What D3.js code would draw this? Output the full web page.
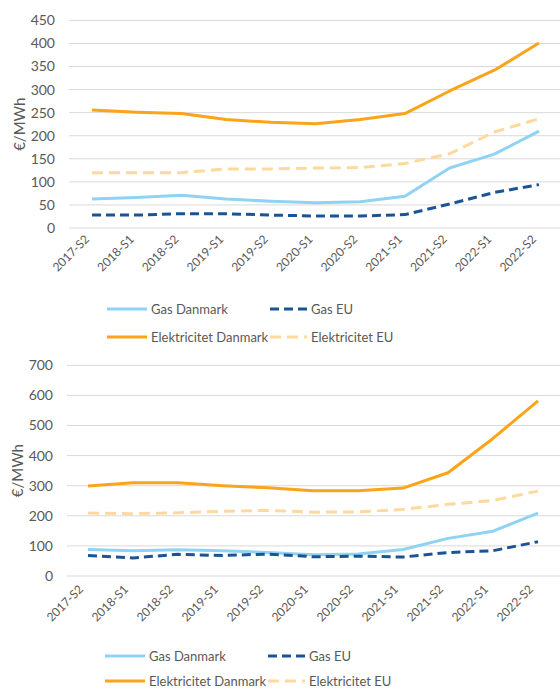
<!DOCTYPE html>
<html>
<head>
<meta charset="utf-8">
<script src="https://cdn.jsdelivr.net/npm/d3@7"></script>
<style>
  html, body { margin: 0; padding: 0; background: #fff; }
  svg { display: block; font-family: Lato, "Open Sans", sans-serif; }
</style>
</head>
<body>
<svg id="chart" width="560" height="690"></svg>
<script>
// Half-year periods
const periods = ["2017-S2","2018-S1","2018-S2","2019-S1","2019-S2","2020-S1","2020-S2","2021-S1","2021-S2","2022-S1","2022-S2"];

// Upper panel (€/MWh)
const upperTicks = [0,50,100,150,200,250,300,350,400,450];
const upperGasDK  = [63, 66, 71, 63, 58, 55, 57, 69, 130, 160, 210];
const upperGasEU  = [28, 28, 31, 31, 28, 26, 26, 29, 52, 77, 94];
const upperElDK   = [256, 251, 248, 235, 229, 226, 235, 248, 297, 342, 401];
const upperElEU   = [120, 120, 120, 128, 128, 130, 131, 140, 161, 208, 237];

// Lower panel (€/MWh)
const lowerTicks = [0,100,200,300,400,500,600,700];
const lowerGasDK  = [88, 84, 87, 84, 78, 71, 73, 88, 125, 149, 209];
const lowerGasEU  = [68, 60, 72, 68, 73, 64, 66, 63, 78, 84, 114];
const lowerElDK   = [299, 310, 310, 300, 293, 283, 283, 292, 343, 457, 582];
const lowerElEU   = [209, 207, 210, 215, 218, 212, 213, 221, 238, 251, 282];

const styles = {
  "Gas Danmark":          { color: "#8fd3f4", dash: null },
  "Gas EU":               { color: "#1b5495", dash: "9,5" },
  "Elektricitet Danmark": { color: "#fba41a", dash: null },
  "Elektricitet EU":      { color: "#fdd9a0", dash: "11,6" }
};

const svg = d3.select("#chart");

function drawPanel(p) {
  const g = svg.append("g");
  const x = d3.scalePoint().domain(periods).range([p.x0, p.x1]);
  const y = d3.scaleLinear().domain([0, p.max]).range([p.y0, p.y1]);

  // gridlines
  g.selectAll("line.grid").data(p.ticks).join("line")
    .attr("x1", p.gridLeft).attr("x2", 560)
    .attr("y1", d => y(d)).attr("y2", d => y(d))
    .attr("stroke", "#d9d9d9").attr("stroke-width", 1);

  // y tick labels
  g.selectAll("text.ytick").data(p.ticks).join("text")
    .attr("x", p.tickRight).attr("y", d => y(d))
    .attr("dy", "0.35em").attr("text-anchor", "end")
    .attr("font-size", 14).attr("fill", "#595959")
    .text(d => d);

  // axis title
  g.append("text")
    .attr("transform", `translate(${p.titleX},${(p.y0 + p.y1) / 2}) rotate(-90)`)
    .attr("text-anchor", "middle").attr("font-size", 15).attr("fill", "#595959")
    .text("€/MWh");

  // x labels
  g.selectAll("text.xtick").data(periods).join("text")
    .attr("transform", d => `translate(${x(d) + p.xLabDx},${p.xLabY}) rotate(-45)`)
    .attr("text-anchor", "end").attr("font-size", 12).attr("fill", "#595959")
    .text(d => d);

  // lines (drawn back to front)
  const line = d3.line().x((d, i) => x(periods[i])).y(d => y(d));
  const order = ["Elektricitet EU", "Elektricitet Danmark", "Gas Danmark", "Gas EU"];
  order.forEach(name => {
    const st = styles[name];
    g.append("path").datum(p.data[name])
      .attr("d", line).attr("fill", "none")
      .attr("stroke", st.color).attr("stroke-width", 3)
      .attr("stroke-linejoin", "round")
      .attr("stroke-dasharray", st.dash);
  });

  // legend
  const leg = [
    { name: "Gas Danmark", lx: p.legX1, ly: p.legY1 },
    { name: "Gas EU", lx: p.legX2, ly: p.legY1 },
    { name: "Elektricitet Danmark", lx: p.legX1, ly: p.legY2 },
    { name: "Elektricitet EU", lx: p.legX2, ly: p.legY2 }
  ];
  leg.forEach(l => {
    const st = styles[l.name];
    const w = st.dash ? 37 : 40;
    g.append("line")
      .attr("x1", l.lx).attr("x2", l.lx + w)
      .attr("y1", l.ly).attr("y2", l.ly)
      .attr("stroke", st.color).attr("stroke-width", 3)
      .attr("stroke-dasharray", st.dash);
    g.append("text")
      .attr("x", l.lx + w + 4).attr("y", l.ly).attr("dy", "0.35em")
      .attr("font-size", 13).attr("fill", "#595959")
      .text(l.name);
  });
}

drawPanel({
  max: 450, ticks: upperTicks, y0: 228, y1: 20.4,
  x0: 92, x1: 539, gridLeft: 69, tickRight: 55, titleX: 25,
  xLabDx: -2, xLabY: 240,
  legX1: 107, legX2: 270, legY1: 309, legY2: 337,
  data: { "Gas Danmark": upperGasDK, "Gas EU": upperGasEU, "Elektricitet Danmark": upperElDK, "Elektricitet EU": upperElEU }
});

drawPanel({
  max: 700, ticks: lowerTicks, y0: 576, y1: 365.3,
  x0: 88, x1: 538, gridLeft: 67, tickRight: 53, titleX: 23,
  xLabDx: -4, xLabY: 590,
  legX1: 105, legX2: 268, legY1: 656, legY2: 681,
  data: { "Gas Danmark": lowerGasDK, "Gas EU": lowerGasEU, "Elektricitet Danmark": lowerElDK, "Elektricitet EU": lowerElEU }
});
</script>
</body>
</html>
